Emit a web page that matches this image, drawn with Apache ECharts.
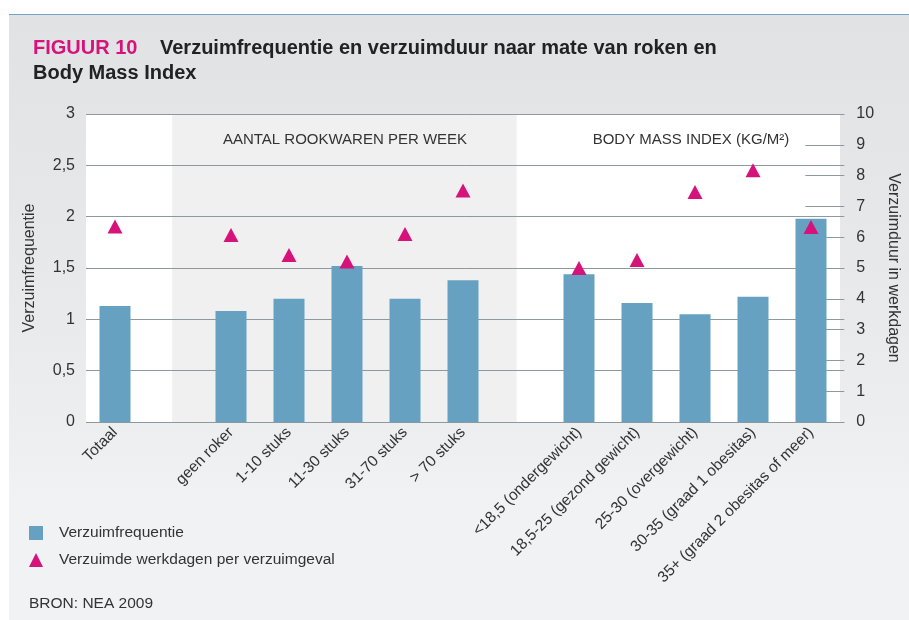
<!DOCTYPE html>
<html>
<head>
<meta charset="utf-8">
<script src="https://cdn.jsdelivr.net/npm/echarts@6/dist/echarts.min.js"></script>
<style>
  html, body { margin: 0; padding: 0; background: #fff; }
  .panel {
    position: absolute; left: 9px; top: 14px; width: 900px; height: 605px;
    border-top: 1.5px solid #6ea5c8;
    background: linear-gradient(#e1e2e4, #e9eaeb 50%, #eeeff0 72%, #f1f2f3 80%, #f1f2f3);
  }
  #chart { position: absolute; left: 0; top: 0; width: 909px; height: 620px; }
</style>
</head>
<body>
<div class="panel"></div>
<div id="chart"></div>
<script>
  // categorieen (lege plekken scheiden de groepen)
  const categories = [
    'Totaal', '',
    'geen roker', '1-10 stuks', '11-30 stuks', '31-70 stuks', '> 70 stuks', ' ',
    '<18,5 (ondergewicht)', '18,5-25 (gezond gewicht)', '25-30 (overgewicht)',
    '30-35 (graad 1 obesitas)', '35+ (graad 2 obesitas of meer)'
  ]
  const frequentie = [1.13, '-', 1.08, 1.20, 1.52, 1.20, 1.38, '-', 1.44, 1.16, 1.05, 1.22, 1.98]
  const werkdagen = [6.35, '-', 6.07, 5.42, 5.21, 6.10, 7.52, '-', 5.00, 5.26, 7.47, 8.17, 6.33]
  const leftTicks = ['0', '0,5', '1', '1,5', '2', '2,5', '3']
  const rightTicks = ['0', '1', '2', '3', '4', '5', '6', '7', '8', '9', '10']
  const groupLabels = ['AANTAL ROOKWAREN PER WEEK', 'BODY MASS INDEX (KG/M²)']
  // grijze band: van de lege plek na Totaal tot de lege plek na > 70 stuks
  const rookBand = [1, 7]

  const font = '"Liberation Sans", Arial, sans-serif'
  const txt = '#333'
  const lineColor = '#8e999f'

  const ec = echarts.init(document.getElementById('chart'))
  ec.setOption({
    textStyle: { fontFamily: font },
    title: [{
      left: 33,
      top: 36,
      padding: 0,
      text: '{a|FIGUUR 10}{b|Verzuimfrequentie en verzuimduur naar mate van roken en}\n{b|Body Mass Index}',
      textStyle: {
        rich: {
          a: { color: '#d5137b', fontSize: 20, fontWeight: 'bold', fontFamily: font, width: 127, lineHeight: 25 },
          b: { color: '#222', fontSize: 20, fontWeight: 'bold', fontFamily: font, lineHeight: 25 }
        }
      }
    }, {
      left: 29,
      top: 596,
      padding: 0,
      text: 'BRON: NEA 2009',
      textStyle: { color: txt, fontSize: 15.5, fontWeight: 'normal', fontFamily: font }
    }],
    legend: {
      orient: 'vertical',
      left: 29,
      top: 525,
      padding: 0,
      itemWidth: 14,
      itemHeight: 14,
      itemGap: 11,
      textStyle: { color: txt, fontSize: 15.5, lineHeight: 14, padding: [0, 0, 0, 11] },
      data: [
        { name: 'Verzuimfrequentie', icon: 'rect' },
        { name: 'Verzuimde werkdagen per verzuimgeval', icon: 'triangle' }
      ]
    },
    graphic: [
      { type: 'text', z: 10, x: 345, y: 140, style: { text: groupLabels[0], align: 'center', verticalAlign: 'middle', fill: txt, font: '15px ' + font } },
      { type: 'text', z: 10, x: 691, y: 140, style: { text: groupLabels[1], align: 'center', verticalAlign: 'middle', fill: txt, font: '15px ' + font } }
    ],
    grid: [
      { left: 86, top: 114, width: 754, height: 308, show: true, backgroundColor: '#fff', borderWidth: 0 },
      { left: 86, top: 114, width: 766, height: 308 }
    ],
    xAxis: [{
      gridIndex: 0,
      type: 'category',
      data: categories,
      axisLine: { show: false },
      axisTick: { show: false },
      axisLabel: { interval: 0, rotate: 45, margin: 8, fontSize: 15.5, color: txt }
    }, {
      // zelfde schaal als de categorie-as (58 px per plek), alleen voor de band
      gridIndex: 1,
      type: 'value',
      min: -0.5,
      max: -0.5 + 766 / 58,
      show: false
    }],
    yAxis: [{
      gridIndex: 1,
      type: 'value',
      min: 0, max: 3, interval: 0.5,
      z: 1.5,
      name: 'Verzuimfrequentie',
      nameLocation: 'middle',
      nameGap: 48,
      nameTextStyle: { color: txt, fontSize: 16 },
      axisLine: { show: false },
      axisTick: { show: false },
      axisLabel: { margin: 11, fontSize: 16, color: txt, formatter: (v) => leftTicks[Math.round(v * 2)] },
      splitLine: { lineStyle: { color: lineColor, width: 1 } }
    }, {
      gridIndex: 1,
      type: 'value',
      position: 'right',
      min: 0, max: 10, interval: 1,
      z: 1.5,
      name: 'Verzuimduur in werkdagen',
      nameLocation: 'middle',
      nameGap: 35,
      nameRotate: -90,
      nameTextStyle: { color: txt, fontSize: 16 },
      axisLine: { show: false },
      axisTick: { show: true, inside: true, length: 39, lineStyle: { color: lineColor } },
      axisLabel: { margin: 12, fontSize: 16, color: txt, formatter: (v) => rightTicks[Math.round(v)] },
      splitLine: { show: false }
    }, {
      gridIndex: 0, type: 'value', min: 0, max: 3, show: false, splitLine: { show: false }
    }, {
      gridIndex: 0, type: 'value', min: 0, max: 10, show: false, splitLine: { show: false }
    }],
    series: [{
      name: 'band',
      type: 'line',
      xAxisIndex: 1,
      yAxisIndex: 0,
      data: [],
      silent: true,
      markArea: {
        silent: true,
        itemStyle: { color: '#f0f0f0' },
        data: [[{ xAxis: rookBand[0] }, { xAxis: rookBand[1] }]]
      }
    }, {
      name: 'Verzuimfrequentie',
      type: 'bar',
      xAxisIndex: 0,
      yAxisIndex: 2,
      barWidth: 31,
      data: frequentie,
      itemStyle: { color: '#66a1c1' }
    }, {
      name: 'Verzuimde werkdagen per verzuimgeval',
      type: 'scatter',
      xAxisIndex: 0,
      yAxisIndex: 3,
      symbol: 'triangle',
      symbolSize: [15, 14],
      data: werkdagen,
      itemStyle: { color: '#d5137b', opacity: 1 }
    }]
  })
</script>
</body>
</html>
